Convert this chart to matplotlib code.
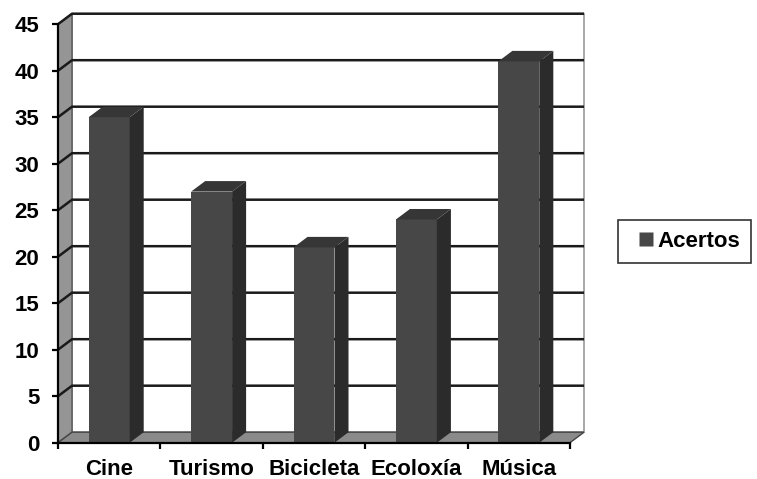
import matplotlib
matplotlib.use("Agg")
import matplotlib.pyplot as plt
from matplotlib.patches import Polygon, Rectangle
from matplotlib.lines import Line2D

# Data
categories = ["Cine", "Turismo", "Bicicleta", "Ecoloxía", "Música"]
acertos = [35, 27, 21, 24, 41]
series_name = "Acertos"
y_ticks = list(range(0, 50, 5))

# Pseudo-3D styling
depth_x = 0.137   # depth offset in category units
depth_y = 1.13    # depth offset in value units
bar_w = 0.4
front_col = "#474747"
side_col = "#2b2b2b"
top_col = "#363636"
wall_col = "#959595"
floor_col = "#8a8a8a"
grid_col = "#1a1a1a"
font_size = 16

plt.rcParams["font.family"] = ["Liberation Sans", "DejaVu Sans"]
plt.rcParams["font.weight"] = "bold"

W, H = 757, 479
fig = plt.figure(figsize=(W / 100, H / 100), dpi=100)

px_per_cat = 102.4
px_per_val = 9.3
left_px, bottom_px, right_px, top_px = 58, 442.7, 592, 8
ax = fig.add_axes([left_px / W, (H - bottom_px) / H,
                   (right_px - left_px) / W, (bottom_px - top_px) / H])
ax.set_xlim(-0.5, -0.5 + (right_px - left_px) / px_per_cat)
ax.set_ylim(0, (bottom_px - top_px) / px_per_val)

n = len(categories)
x0, x1 = -0.5, n - 0.5
ymax = y_ticks[-1]

# Back wall
ax.add_patch(Polygon([(x0 + depth_x, depth_y), (x1 + depth_x, depth_y),
                      (x1 + depth_x, ymax + depth_y), (x0 + depth_x, ymax + depth_y)],
                     closed=True, facecolor="white", edgecolor="#9a9a9a", lw=1.2, zorder=1))
# Left wall
ax.add_patch(Polygon([(x0, 0), (x0 + depth_x, depth_y), (x0 + depth_x, ymax + depth_y), (x0, ymax)],
                     closed=True, facecolor=wall_col, edgecolor="#555555", lw=1, zorder=1.5))

# Gridlines on the left wall and back wall
for v in y_ticks[1:]:
    ax.plot([x0, x0 + depth_x, x1 + depth_x], [v, v + depth_y, v + depth_y],
            color=grid_col, lw=1.8, zorder=2, solid_capstyle="butt")

# Floor
ax.add_patch(Polygon([(x0, 0), (x1, 0), (x1 + depth_x, depth_y), (x0 + depth_x, depth_y)],
                     closed=True, facecolor=floor_col, edgecolor="#444444", lw=1, zorder=2.5))

# Bars
for i, v in enumerate(acertos):
    l, r = i - bar_w / 2, i + bar_w / 2
    ax.add_patch(Rectangle((l, 0), bar_w, v, facecolor=front_col, edgecolor="none", zorder=3))
    ax.add_patch(Polygon([(r, 0), (r + depth_x, depth_y), (r + depth_x, v + depth_y), (r, v)],
                         closed=True, facecolor=side_col, edgecolor="none", zorder=3))
    ax.add_patch(Polygon([(l, v), (r, v), (r + depth_x, v + depth_y), (l + depth_x, v + depth_y)],
                         closed=True, facecolor=top_col, edgecolor="none", zorder=3))

# Axes: front edges with ticks
for s in ("top", "right"):
    ax.spines[s].set_visible(False)
ax.spines["left"].set_bounds(0, ymax)
ax.spines["bottom"].set_bounds(x0, x1)
for s in ("left", "bottom"):
    ax.spines[s].set_linewidth(1.6)
    ax.spines[s].set_zorder(4)
ax.set_facecolor("none")

ax.set_yticks(y_ticks)
ax.set_yticklabels([str(t) for t in y_ticks], fontsize=font_size, fontweight="bold")
ax.tick_params(axis="y", direction="out", length=4.5, width=1.6, pad=9)

ax.set_xticks([x0 + k for k in range(n + 1)])
ax.set_xticklabels([])
ax.tick_params(axis="x", which="major", direction="out", length=4.5, width=1.6)
ax.set_xticks(range(n), minor=True)
ax.set_xticklabels(categories, minor=True, fontsize=font_size, fontweight="bold")
ax.tick_params(axis="x", which="minor", length=0, pad=12)

# Legend
handle = Line2D([], [], linestyle="none", marker="s", markersize=9.5,
                markerfacecolor=front_col, markeredgecolor="none", label=series_name)
leg = fig.legend(handles=[handle],
                 loc="center left", bbox_to_anchor=(618 / W, 1 - 241.5 / H),
                 borderaxespad=0, frameon=True, fancybox=False,
                 handlelength=1.49, handletextpad=-0.22, borderpad=0.5,
                 prop={"size": font_size, "weight": "bold"})
leg.get_frame().set_edgecolor("black")
leg.get_frame().set_linewidth(1.2)

fig.savefig("out.png", dpi=100)
